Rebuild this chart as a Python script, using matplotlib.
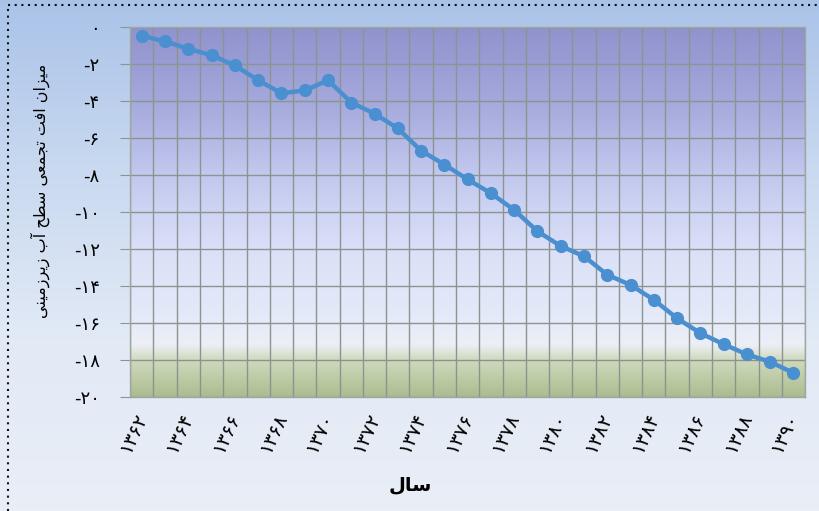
import matplotlib.pyplot as plt
import numpy as np
from matplotlib.colors import LinearSegmentedColormap
from matplotlib.lines import Line2D

# سال‌ها (۱۳۶۲ تا ۱۳۹۰) و افت تجمعی سطح آب (متر)
years = list(range(1362, 1391))
drawdown = [-0.5, -0.8, -1.2, -1.55, -2.1, -2.9, -3.6, -3.45, -2.9, -4.1,
            -4.7, -5.5, -6.7, -7.45, -8.25, -9.0, -9.9, -11.05, -11.85, -12.4,
            -13.4, -13.95, -14.75, -15.75, -16.55, -17.15, -17.7, -18.1, -18.7]
y_ticks = list(range(0, -21, -2))

fa_digits = str.maketrans('0123456789', '۰۱۲۳۴۵۶۷۸۹')


def fa(n):
    s = str(abs(n)).translate(fa_digits)
    return ('-' + s) if n < 0 else s


# Arabic presentation forms, already in visual (left-to-right) order
xlabel_txt = '\uFEDD\uFE8E\uFEB3'  # سال
ylabel_words = [
    '\uFEF0\uFEE8\uFEF4\uFEE3\uFEAF\uFEAE\uFEF3\uFEAF',  # زیرزمینی
    '\uFE8F\uFE81',                                      # آب
    '\uFEA2\uFEC4\uFEB3',                                # سطح
    '\uFEF0\uFECC\uFEE4\uFEA0\uFE97',                    # تجمعی
    '\uFE96\uFED3\uFE8D',                                # افت
    '\uFEE5\uFE8D\uFEB0\uFEF4\uFEE3',                    # میزان
]
ylabel_txt = ' '.join(ylabel_words)

plt.rcParams['font.family'] = ['DejaVu Sans']

fig = plt.figure(figsize=(8.19, 5.11), dpi=100)

# figure background: light blue fading to near white
bg = fig.add_axes([0, 0, 1, 1], zorder=-10)
bg_cmap = LinearSegmentedColormap.from_list('bg', ['#a9c3e8', '#c9d9f0', '#e2eaf6', '#e9eef7'])
bg.imshow(np.linspace(0, 1, 256).reshape(-1, 1), cmap=bg_cmap, aspect='auto',
          extent=[0, 1, 0, 1], origin='upper')
bg.set_axis_off()
# dotted frame (top and left)
bg.add_line(Line2D([0.0095, 0.0095], [0, 0.99], color='#111111', lw=1.5, ls=(0, (1, 2.2))))
bg.add_line(Line2D([0.0095, 1], [0.99, 0.99], color='#111111', lw=1.5, ls=(0, (1, 2.2))))
bg.set_xlim(0, 1)
bg.set_ylim(0, 1)

ax = fig.add_axes([0.159, 0.223, 0.824, 0.725])
x = np.arange(len(years))

# plot area gradient: purple top, pale middle, green band at the bottom
plot_cmap = LinearSegmentedColormap.from_list('plot', [
    (0.0, '#9092cd'), (0.2, '#a4a8dc'), (0.4, '#c2c8ee'), (0.6, '#dae0f7'),
    (0.8, '#e6ebf9'), (0.86, '#eceff6'), (0.9, '#d0dabf'), (1.0, '#abbd8f')])
ax.imshow(np.linspace(0, 1, 512).reshape(-1, 1), cmap=plot_cmap, aspect='auto',
          extent=[-0.5, len(years) - 0.5, -20, 0], origin='upper', zorder=0)

ax.plot(x, drawdown, color='#4a8fd0', lw=3.2, marker='o', markersize=9.5,
        markeredgewidth=0, zorder=3)

ax.set_xlim(-0.5, len(years) - 0.5)
ax.set_ylim(-20, 0)

# grid at category boundaries
for b in np.arange(-0.5, len(years), 1.0):
    ax.axvline(b, color='#8c9490', lw=1.0, zorder=1)
for t in y_ticks:
    ax.axhline(t, color='#8c9490', lw=1.0, zorder=1)

ax.set_yticks(y_ticks)
ax.set_yticklabels([fa(t) for t in y_ticks], fontsize=13)
ax.tick_params(axis='y', length=7, color='#8c9490', pad=15)

label_idx = x[::2]
ax.set_xticks(label_idx)
ax.set_xticklabels([fa(years[i]) for i in label_idx], rotation=65, ha='right',
                   va='center', rotation_mode='anchor', fontsize=14)
ax.tick_params(axis='x', length=0, pad=12)

for sp in ax.spines.values():
    sp.set_color('#a0a6a0')
    sp.set_linewidth(1.0)

fig.text(0.501, 0.051, xlabel_txt, ha='center', va='center', fontsize=14, fontweight='bold')
fig.text(0.049, 0.627, ylabel_txt, ha='center', va='center', rotation=90, fontsize=11.5)

fig.savefig('out.png', dpi=100)
